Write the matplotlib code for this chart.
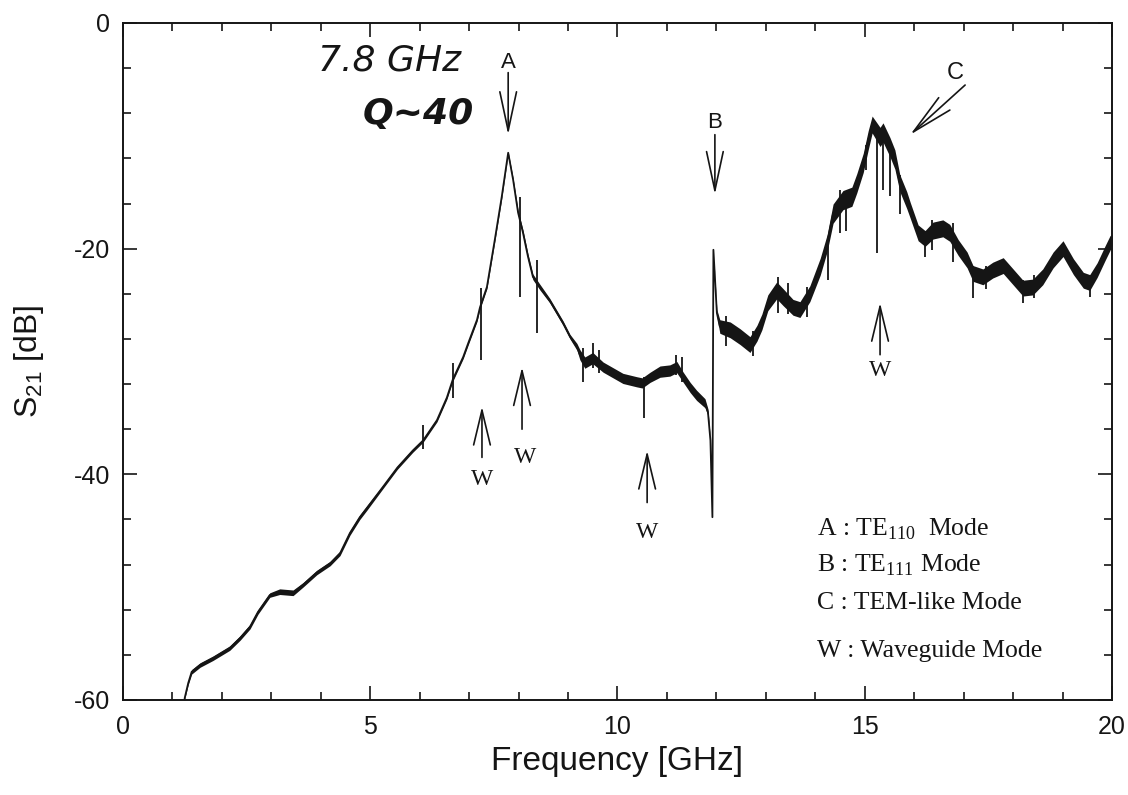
import numpy as np
import matplotlib
matplotlib.use("Agg")
import matplotlib.pyplot as plt
from matplotlib.ticker import MultipleLocator

plt.rcParams["font.family"] = ["Liberation Sans", "DejaVu Sans"]
plt.rcParams["axes.unicode_minus"] = False
plt.rcParams["mathtext.fontset"] = "custom"
plt.rcParams["mathtext.rm"] = "Liberation Serif"
plt.rcParams["mathtext.sf"] = "Liberation Sans"

# --- S21 trace (GHz, dB) ---
freq = [1.22, 1.25, 1.32, 1.39, 1.56, 1.82, 2.16, 2.37, 2.57, 2.73, 2.97, 3.17,
        3.44, 3.64, 3.92, 4.19, 4.39, 4.59, 4.79, 4.93, 5.26, 5.55, 5.86, 6.07,
        6.35, 6.55, 6.67, 6.88, 6.98, 7.16, 7.22, 7.36, 7.52, 7.66, 7.79, 7.89,
        7.99, 8.09, 8.19, 8.29, 8.43, 8.63, 8.90, 9.04, 9.18, 9.24, 9.34, 9.50,
        9.71, 9.91, 10.11, 10.39, 10.50, 10.66, 10.86, 11.06, 11.20, 11.33, 11.47,
        11.60, 11.77, 11.83, 11.88, 11.92, 11.94, 12.01, 12.07, 12.28, 12.48,
        12.68, 12.82, 12.92, 13.04, 13.22, 13.35, 13.55, 13.69, 13.89, 14.10,
        14.24, 14.36, 14.56, 14.74, 14.84, 14.97, 15.07, 15.15, 15.31, 15.37,
        15.51, 15.61, 15.71, 15.85, 15.92, 16.08, 16.22, 16.38, 16.58, 16.72,
        16.89, 17.07, 17.19, 17.39, 17.59, 17.80, 18.00, 18.20, 18.40, 18.60,
        18.81, 19.01, 19.22, 19.42, 19.55, 19.70, 19.86, 19.96, 20.00]
s21 = [-61.0, -59.8, -58.5, -57.5, -56.9, -56.3, -55.4, -54.5, -53.5, -52.2, -50.7, -50.4,
       -50.5, -49.8, -48.7, -47.9, -47.0, -45.2, -43.8, -43.0, -41.1, -39.4, -37.9, -37.0,
       -35.2, -33.2, -31.6, -29.6, -28.4, -26.3, -25.2, -23.4, -19.2, -15.4, -11.5, -13.9,
       -16.8, -18.6, -20.7, -22.5, -23.4, -24.6, -26.6, -27.8, -28.7, -29.4, -30.1, -29.7,
       -30.5, -31.0, -31.5, -31.8, -31.9, -31.4, -30.9, -30.8, -30.5, -31.4, -32.3,
       -33.0, -33.7, -34.5, -37.0, -43.8, -20.1, -25.7, -26.9, -27.2, -27.8,
       -28.5, -27.5, -26.5, -24.8, -23.7, -24.3, -25.2, -25.4, -24.0, -21.6,
       -19.5, -16.9, -15.7, -15.4, -14.2, -12.4, -10.4, -9.0, -10.1, -9.7,
       -11.0, -12.1, -14.2, -15.7, -16.6, -18.6, -19.1, -18.4, -18.2, -18.6,
       -19.9, -21.0, -22.2, -22.5, -21.9, -21.5, -22.5, -23.5, -23.4, -22.5,
       -21.0, -20.0, -21.6, -22.8, -23.0, -21.9, -20.4, -19.5, -19.2]
# half thickness of the noisy band (dB)
noise = [0.1, 0.1, 0.15, 0.2, 0.2, 0.2, 0.2, 0.2, 0.2, 0.2, 0.2, 0.25,
         0.25, 0.2, 0.2, 0.2, 0.2, 0.2, 0.2, 0.2, 0.15, 0.15, 0.15, 0.15,
         0.15, 0.15, 0.15, 0.15, 0.15, 0.15, 0.15, 0.15, 0.15, 0.15, 0.1, 0.15,
         0.2, 0.25, 0.25, 0.25, 0.25, 0.2, 0.2, 0.2, 0.3, 0.45, 0.5, 0.5,
         0.45, 0.45, 0.45, 0.45, 0.45, 0.45, 0.5, 0.5, 0.5, 0.45, 0.45,
         0.45, 0.4, 0.3, 0.1, 0.0, 0.0, 0.3, 0.6, 0.7, 0.7,
         0.7, 0.7, 0.7, 0.7, 0.75, 0.75, 0.7, 0.7, 0.7, 0.75,
         0.75, 0.85, 0.85, 0.85, 0.85, 0.85, 0.85, 0.75, 0.85, 0.85,
         0.85, 0.85, 0.75, 0.75, 0.7, 0.7, 0.7, 0.75, 0.75, 0.75,
         0.7, 0.7, 0.7, 0.7, 0.7, 0.7, 0.7, 0.7, 0.7, 0.7,
         0.7, 0.7, 0.7, 0.7, 0.7, 0.65, 0.65, 0.65, 0.5]

# narrow spikes (GHz, top dB, bottom dB)
spike_f = [6.07, 6.67, 7.24, 8.03, 8.37, 9.30, 9.50, 9.62, 10.54, 11.18, 11.30,
           12.20, 12.75, 13.25, 13.45, 13.83, 14.26, 14.50, 14.62, 15.02, 15.25,
           15.37, 15.52, 15.71, 16.22, 16.36, 16.79, 17.19, 17.45, 18.20, 18.42, 19.55]
spike_top = [-35.6, -30.1, -23.5, -15.4, -21.0, -28.8, -28.4, -29.0, -31.4, -29.4, -29.6,
             -26.0, -27.3, -22.5, -23.0, -23.4, -19.3, -14.8, -15.0, -10.8, -9.5,
             -9.3, -10.5, -13.5, -18.5, -17.5, -17.7, -21.5, -21.5, -22.8, -22.3, -22.3]
spike_bot = [-37.8, -33.2, -29.9, -24.3, -27.5, -31.8, -30.6, -31.0, -35.0, -31.2, -31.8,
             -28.6, -29.5, -25.7, -25.8, -26.1, -22.8, -18.6, -18.4, -13.0, -20.4,
             -14.8, -15.3, -16.9, -20.7, -20.1, -21.2, -24.4, -23.6, -24.8, -24.4, -24.3]

# mode markers: label, x, label y, arrow tail y, arrow tip y
mode_labels = ["A", "B"]
mode_x = [7.79, 11.97]
mode_label_y = [-3.5, -8.8]
mode_tail_y = [-4.4, -9.9]
mode_tip_y = [-9.9, -15.2]

w_x = [7.26, 8.07, 10.60, 15.31]
w_label_x = [7.26, 8.13, 10.60, 15.31]
w_tip_y = [-34.0, -30.5, -37.9, -24.8]
w_tail_y = [-38.5, -36.0, -42.5, -29.4]
w_label_y = [-40.5, -38.5, -45.2, -30.8]

legend_lines = [r"A : TE$_{110}$  Mode", r"B : TE$_{111}$ Mode",
                "C : TEM-like Mode", "W : Waveguide Mode"]
legend_y = [-45.4, -48.6, -51.9, -56.2]

ink = "#151515"

fig = plt.figure(figsize=(11.28, 7.95), dpi=100)
ax = fig.add_axes([0.1090, 0.1195, 0.8768, 0.8516])

f = np.array(freq)
y = np.array(s21)
hw = np.array(noise)
ax.fill_between(f, y - hw, y + hw, color=ink, lw=0)
ax.plot(f, y, color=ink, lw=1.3)
ax.vlines(spike_f, spike_bot, spike_top, color=ink, lw=1.3)

ax.set_xlim(0, 20)
ax.set_ylim(-60, 0)
ax.xaxis.set_major_locator(MultipleLocator(5))
ax.xaxis.set_minor_locator(MultipleLocator(1))
ax.yaxis.set_major_locator(MultipleLocator(20))
ax.yaxis.set_minor_locator(MultipleLocator(4))
ax.tick_params(which="both", direction="in", top=True, right=True, width=1.2,
               colors=ink, labelsize=18)
ax.tick_params(which="major", length=10)
ax.tick_params(which="minor", length=5.5)
ax.tick_params(axis="x", pad=11)
ax.tick_params(axis="y", pad=9)
for sp in ax.spines.values():
    sp.set_linewidth(1.4)
    sp.set_color(ink)

ax.set_xlabel("Frequency [GHz]", fontsize=24, color=ink)
ax.set_ylabel(r"S$_{\mathsf{21}}$ [dB]", fontsize=23, color=ink)
ax.xaxis.set_label_coords(0.5, -0.068)
ax.yaxis.set_label_coords(-0.078, 0.5)

# A and B arrows
for lab, x, ly, ty, hy in zip(mode_labels, mode_x, mode_label_y, mode_tail_y, mode_tip_y):
    ax.text(x, ly, lab, ha="center", va="center", fontsize=16, color=ink)
    ax.annotate("", xy=(x, hy), xytext=(x, ty),
                arrowprops=dict(arrowstyle="->,head_length=2.8,head_width=0.6",
                                lw=1.2, color=ink, shrinkA=0, shrinkB=0))

# C arrow
ax.text(16.83, -4.4, "C", ha="center", va="center", fontsize=17, color=ink)
ax.annotate("", xy=(15.92, -9.9), xytext=(17.03, -5.5),
            arrowprops=dict(arrowstyle="->,head_length=3.0,head_width=0.6",
                            lw=1.2, color=ink, shrinkA=0, shrinkB=0))

# waveguide mode arrows
for x, lx, hy, ty, ly in zip(w_x, w_label_x, w_tip_y, w_tail_y, w_label_y):
    ax.annotate("", xy=(x, hy), xytext=(x, ty),
                arrowprops=dict(arrowstyle="->,head_length=2.5,head_width=0.6",
                                lw=1.2, color=ink, shrinkA=0, shrinkB=0))
    ax.text(lx, ly, "W", ha="center", va="center", fontsize=17,
            family="Liberation Serif", color=ink)

# legend text
for txt, ly in zip(legend_lines, legend_y):
    ax.text(14.03, ly, txt, ha="left", va="baseline", fontsize=18.5,
            family="Liberation Serif", color=ink)

# handwritten note
ax.text(5.40, -3.3, "7.8 GHz", ha="center", va="center", fontsize=26,
        family="DejaVu Sans", style="italic", color=ink)
ax.text(5.97, -8.1, "Q~40", ha="center", va="center", fontsize=26,
        family="DejaVu Sans", style="italic", weight="bold", color=ink)

fig.savefig("out.png", dpi=100, facecolor="white")
